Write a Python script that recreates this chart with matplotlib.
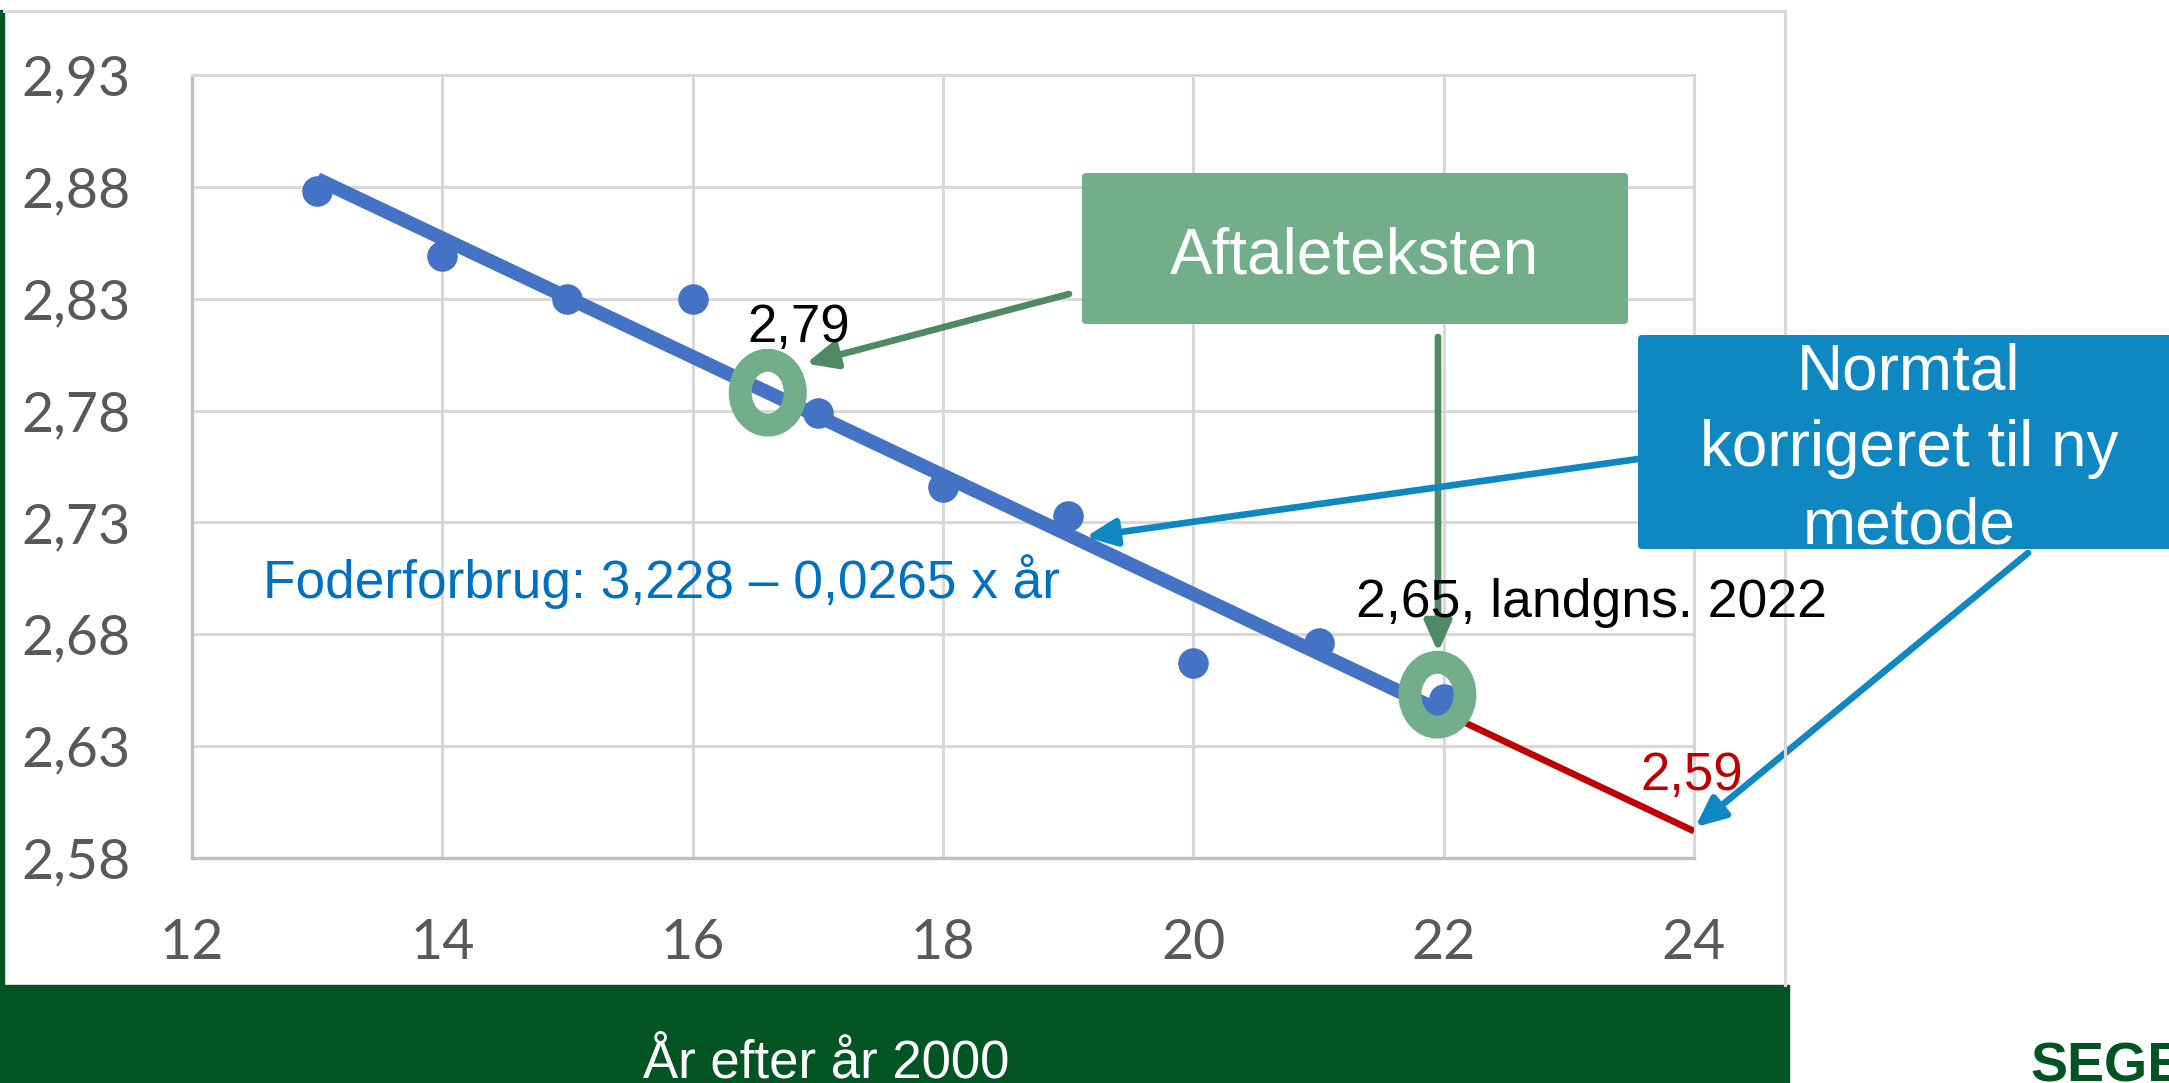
import matplotlib.pyplot as plt
from matplotlib.patches import Ellipse, FancyBboxPatch, Rectangle
from matplotlib.lines import Line2D
from matplotlib.transforms import IdentityTransform

# data
years = [13, 14, 15, 16, 17, 18, 19, 20, 21, 22]
feed_use = [2.878, 2.849, 2.830, 2.830, 2.779, 2.746, 2.733, 2.667, 2.676, 2.651]
trend_x = [13, 22]
trend_y = [2.8835, 2.645]
forecast_x = [22, 24]
forecast_y = [2.645, 2.592]
x_ticks = [12, 14, 16, 18, 20, 22, 24]
y_ticks = [2.58, 2.63, 2.68, 2.73, 2.78, 2.83, 2.88, 2.93]
y_tick_labels = ["2,58", "2,63", "2,68", "2,73", "2,78", "2,83", "2,88", "2,93"]

W, H = 2169, 1083
DOT_BLUE = "#4472C4"
RED = "#C00000"
RING_GREEN = "#72AE8A"
ARROW_GREEN = "#4F8A63"
BOX_BLUE = "#0F88C2"
DARK_GREEN = "#025522"
GRID = "#D9D9D9"
ARIAL = "Liberation Sans"


def fpos(x, y):
    # pixel position (from top-left) -> figure fraction
    return x / W, 1 - y / H


fig = plt.figure(figsize=(W / 100, H / 100), dpi=100)
fig.patch.set_facecolor("white")
ax = fig.add_axes([192 / W, 1 - 858 / H, 1502 / W, 783 / H])

# series
ax.plot(trend_x, trend_y, color=DOT_BLUE, lw=10, solid_capstyle="butt", zorder=3)
ax.plot(forecast_x, forecast_y, color=RED, lw=4.8, solid_capstyle="butt", zorder=3)
ax.plot(years, feed_use, "o", color=DOT_BLUE, ms=21, zorder=4)

# green rings
for cx, cy in [(16.6, 2.788), (21.95, 2.653)]:
    ax.add_patch(Ellipse((cx, cy), width=0.44, height=0.029, fill=False,
                         ec=RING_GREEN, lw=16.5, zorder=5))

ax.set_xlim(12, 24)
ax.set_ylim(2.58, 2.93)
ax.set_xticks(x_ticks)
ax.set_xticklabels([str(t) for t in x_ticks])
ax.set_yticks(y_ticks)
ax.set_yticklabels(y_tick_labels)
ax.tick_params(length=0, labelsize=40, labelcolor="#595959")
ax.tick_params(axis="y", pad=44)
ax.tick_params(axis="x", pad=43)
for lab in ax.get_xticklabels() + ax.get_yticklabels():
    lab.set_family("Lato")
ax.grid(True, color=GRID, lw=2.2, zorder=0)
ax.set_axisbelow(True)
for side in ["top", "right"]:
    ax.spines[side].set_color(GRID)
    ax.spines[side].set_linewidth(2.2)
for side in ["left", "bottom"]:
    ax.spines[side].set_color("#BFBFBF")
    ax.spines[side].set_linewidth(2.4)

# chart frame, left bar and bottom band
px = IdentityTransform()
fig.add_artist(Line2D([4, 1785], [H - 11, H - 11], color=GRID, lw=2.2, transform=px))
fig.add_artist(Line2D([1785, 1785], [H - 11, H - 985], color=GRID, lw=2.2, transform=px))
fig.add_artist(Rectangle((0, H - 985), 4, 975, color=DARK_GREEN, transform=px))
fig.add_artist(Rectangle((0, 0), 1789, H - 985, color=DARK_GREEN, transform=px))
fig.text(*fpos(826, 1077), "År efter år 2000", color="white", fontsize=38,
         family=ARIAL, ha="center", va="baseline")
fig.text(*fpos(2030, 1041), "SEGES", color=DARK_GREEN, fontsize=40, fontweight="bold",
         family=["Liberation Sans Narrow", ARIAL], ha="left", va="top")

# boxes
fig.add_artist(FancyBboxPatch((1082, H - 324), 546, 151,
                              boxstyle="round,pad=0,rounding_size=4",
                              fc=RING_GREEN, ec="none", transform=px, zorder=6))
fig.text(*fpos(1355, 273), "Aftaleteksten", color="white", fontsize=46,
         family=ARIAL, ha="center", va="baseline", zorder=7)
fig.add_artist(FancyBboxPatch((1638, H - 549), 560, 214,
                              boxstyle="round,pad=0,rounding_size=4",
                              fc=BOX_BLUE, ec="none", transform=px, zorder=6))
for line, base in [("Normtal", 390), ("korrigeret til ny", 466), ("metode", 543)]:
    fig.text(*fpos(1909, base), line, color="white", fontsize=46,
             family=ARIAL, ha="center", va="baseline", zorder=7)

# value labels
fig.text(*fpos(799, 342), "2,79", color="black", fontsize=38, family=ARIAL,
         ha="center", va="baseline")
fig.text(*fpos(1356, 617), "2,65, landgns. 2022", color="black", fontsize=38.5,
         family=ARIAL, ha="left", va="baseline")
fig.text(*fpos(263, 598), "Foderforbrug: 3,228 – 0,0265 x år", color="#0070C0",
         fontsize=38.3, family=ARIAL, ha="left", va="baseline")
fig.text(*fpos(1692, 790), "2,59", color=RED, fontsize=38, family=ARIAL,
         ha="center", va="baseline")

# arrows: (tip in data, tail in pixels)
arrows = [
    ((16.905, 2.801), (1069, 294), ARROW_GREEN),
    ((21.955, 2.672), (1438, 337), ARROW_GREEN),
    ((19.14, 2.7235), (1638, 459), BOX_BLUE),
    ((24.01, 2.5938), (2028, 553), BOX_BLUE),
]
for tip, tail, col in arrows:
    ax.annotate("", xy=tip, xycoords="data", xytext=fpos(*tail),
                textcoords="figure fraction", annotation_clip=False,
                arrowprops=dict(arrowstyle="-|>,head_length=1.0,head_width=0.45",
                                mutation_scale=18, lw=4.8, color=col,
                                shrinkA=0, shrinkB=0), zorder=8)

fig.savefig("out.png", dpi=100)
